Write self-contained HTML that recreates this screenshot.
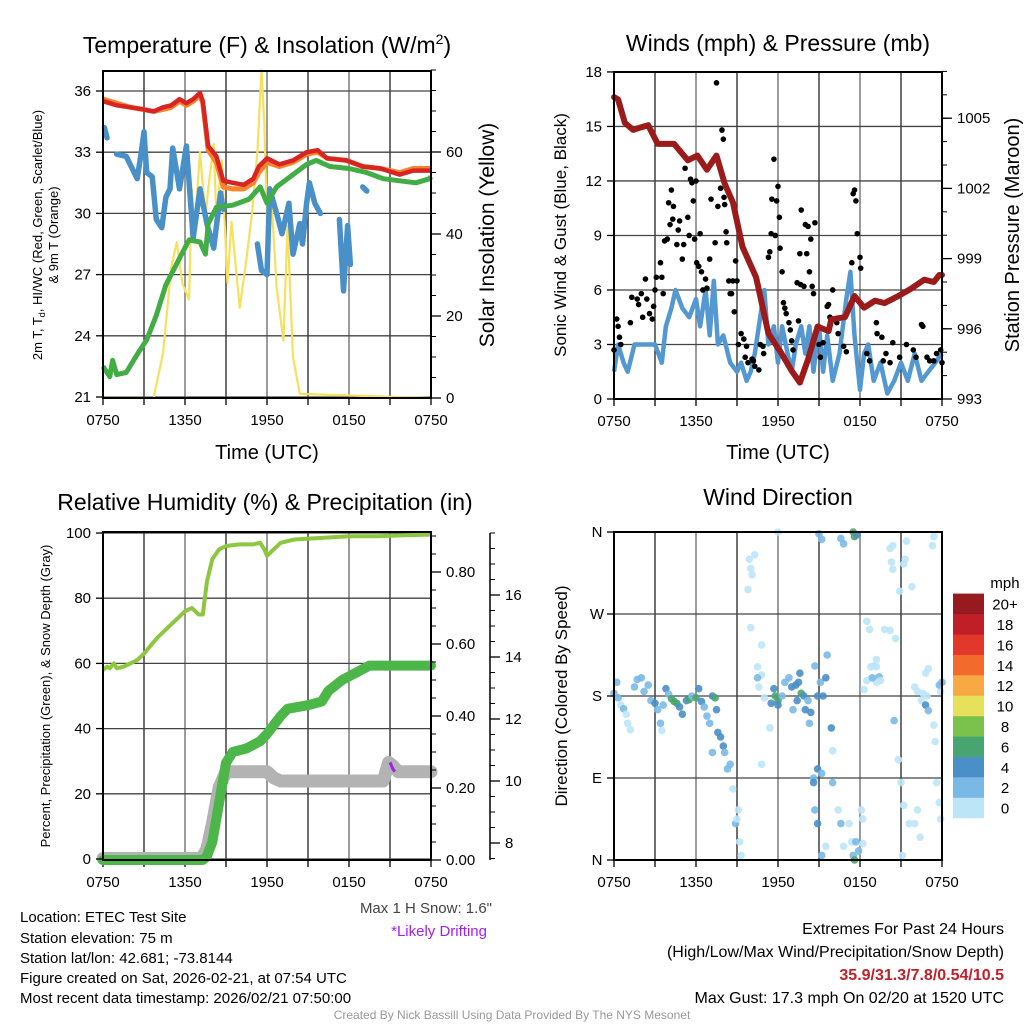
<!DOCTYPE html>
<html><head><meta charset="utf-8"><style>
html,body{margin:0;padding:0;background:#fff;}
svg{display:block;font-family:"Liberation Sans",sans-serif;}
</style></head><body>
<svg id="fig" width="1024" height="1024" viewBox="0 0 1024 1024" xmlns="http://www.w3.org/2000/svg">
<rect x="0" y="0" width="1024" height="1024" fill="#fff"/>
<text x="267" y="53" font-size="23" text-anchor="middle">Temperature (F) &amp; Insolation (W/m<tspan dy="-9" font-size="14">2</tspan><tspan dy="9">)</tspan></text>
<text x="778" y="51" font-size="23" text-anchor="middle">Winds (mph) &amp; Pressure (mb)</text>
<text x="265" y="510" font-size="23" text-anchor="middle">Relative Humidity (%) &amp; Precipitation (in)</text>
<text x="778" y="505" font-size="23" text-anchor="middle">Wind Direction</text>
<g font-size="13" text-anchor="middle">
<text transform="translate(42,235) rotate(-90)">2m T, T<tspan font-size="9" dy="3">d</tspan><tspan dy="-3">, HI/WC (Red, Green, Scarlet/Blue)</tspan></text>
<text transform="translate(58,235) rotate(-90)">&amp; 9m T (Orange)</text>
</g>
<text transform="translate(494,235) rotate(-90)" font-size="21" text-anchor="middle">Solar Insolation (Yellow)</text>
<text transform="translate(566,235) rotate(-90)" font-size="17" text-anchor="middle">Sonic Wind &amp; Gust (Blue, Black)</text>
<text transform="translate(1019,235) rotate(-90)" font-size="20" text-anchor="middle">Station Pressure (Maroon)</text>
<text transform="translate(50,696) rotate(-90)" font-size="13" text-anchor="middle">Percent, Precipitation (Green), &amp; Snow Depth (Gray)</text>
<text transform="translate(567,696) rotate(-90)" font-size="17" text-anchor="middle">Direction (Colored By Speed)</text>
<text x="267" y="459" font-size="20" text-anchor="middle">Time (UTC)</text>
<text x="778" y="459" font-size="20" text-anchor="middle">Time (UTC)</text>
<g font-size="15">
<text x="20" y="922">Location: ETEC Test Site</text>
<text x="20" y="943">Station elevation: 75 m</text>
<text x="20" y="963">Station lat/lon: 42.681; -73.8144</text>
<text x="20" y="983">Figure created on Sat, 2026-02-21, at 07:54 UTC</text>
<text x="20" y="1003">Most recent data timestamp: 2026/02/21 07:50:00</text>
</g>
<text x="492" y="913" font-size="15" fill="#444" text-anchor="end">Max 1 H Snow: 1.6"</text>
<text x="487" y="936" font-size="15" fill="#a020f0" text-anchor="end">*Likely Drifting</text>
<g font-size="16" text-anchor="end">
<text x="1004" y="934">Extremes For Past 24 Hours</text>
<text x="1004" y="957">(High/Low/Max Wind/Precipitation/Snow Depth)</text>
<text x="1004" y="980" fill="#c0202a" font-weight="bold">35.9/31.3/7.8/0.54/10.5</text>
<text x="1004" y="1003">Max Gust: 17.3 mph On 02/20 at 1520 UTC</text>
</g>
<text x="512" y="1019" font-size="12" fill="#999" text-anchor="middle">Created By Nick Bassill Using Data Provided By The NYS Mesonet</text>
</svg>
<script>
// ---------- data ----------
const timeTickLabels = ["0750","1350","1950","0150","0750"];
const tempTickLabels = [21,24,27,30,33,36];
const insolTickLabels = [0,20,40,60];
const windTickLabels = [0,3,6,9,12,15,18];
const presTickLabels = [993,996,999,1002,1005];
const rhTickLabels = [0,20,40,60,80,100];
const precipTickLabels = [0,0.2,0.4,0.6,0.8];
const snowTickLabels = [8,10,12,14,16];
const dirTickLabels = ["N","E","S","W","N"];
const speedBins = ["0","2","4","6","8","10","12","14","16","18","20+"];

const tempHours = [0,0.5,1,2,2.95,3.7,4.4,5.0,5.6,6.1,6.6,7.1,7.3,7.7,8.3,8.8,9.5,10.3,11,11.4,12,12.9,13.9,14.9,15.7,16.4,17.8,19,20.3,21.7,22.7,23.9,24];
const tempRed = [35.5,35.4,35.3,35.2,35.1,35.0,35.2,35.3,35.6,35.4,35.6,35.9,35.5,33.3,32.8,31.6,31.5,31.4,31.7,32.3,32.7,32.4,32.6,33.0,33.1,32.7,32.6,32.3,32.2,31.9,32.1,32.1,32.1];
const tempOrange = [35.6,35.5,35.4,35.2,35.1,35.0,35.1,35.2,35.5,35.3,35.5,35.8,35.4,33.1,32.5,31.3,31.2,31.2,31.5,32.0,32.5,32.3,32.5,32.9,33.0,32.7,32.6,32.3,32.2,32.0,32.2,32.2,32.2];
const greenHours = [0,0.5,0.7,1,1.7,2.7,3.2,3.9,4.6,5.6,6.3,7.1,7.5,7.7,8.3,9.5,10.7,11.5,12,12.7,13.9,14.9,15.6,16.6,18,19.3,20.5,21.7,22.9,23.9,24];
const tempGreen = [22.5,22.0,22.8,22.1,22.2,23.3,23.8,25.0,26.5,27.8,28.7,28.6,28.0,29.5,30.3,30.4,30.7,31.3,30.5,31.3,31.9,32.4,32.6,32.3,32.2,32.0,31.7,31.6,31.5,31.7,31.8];
const dewHours = [0.1,0.3,null,1.0,1.7,2.5,2.8,3.0,3.2,3.6,3.9,4.3,4.6,4.9,5.1,5.6,6.1,6.6,7.1,7.6,8.1,8.6,8.8,null,11.3,11.6,12.0,12.2,12.7,13.1,13.6,13.9,14.4,14.6,14.9,15.1,15.5,15.9,null,17.3,17.6,17.9,18.1,null,19.0,19.3];
const dewBlue = [34.2,33.7,null,32.9,32.8,31.7,33.0,34.0,32.0,31.8,29.7,29.3,30.8,31.2,33.2,31.2,33.3,28.8,31.2,29.5,28.3,31.0,30.2,null,28.5,27.2,27.0,31.2,30.0,29.0,30.5,28.0,29.5,28.5,30.5,31.5,30.5,30.0,null,29.7,26.2,29.4,27.5,null,31.3,31.1];
const insolHours = [0,3.7,4.4,5.0,5.4,5.8,6.3,6.5,6.7,7.1,7.5,7.7,8.1,8.3,8.7,9.1,9.4,10.0,10.5,10.9,11.3,11.6,11.8,12.1,12.3,12.7,13.2,13.5,13.9,14.4,24];
const insolVals = [0,0,11,32,38,28,24,51,41,60,44,51,62,44,58,28,43,22,34,45,60,80,67,31,50,27,14,42,10,1,0];

const presHours = [0,0.3,0.8,1.4,1.9,2.5,3.2,4.4,5.4,6.1,6.8,7.5,8.1,8.7,9.4,10.4,11.3,12.2,13.0,13.6,14.2,14.9,15.7,15.9,16.9,17.6,18.3,19.1,19.8,20.8,21.7,22.7,23.4,23.8,24];
const presVals = [1005.9,1005.8,1004.8,1004.5,1004.6,1004.7,1003.9,1003.9,1003.2,1003.4,1002.8,1003.4,1002.2,1001.4,999.5,998.2,995.8,995.0,994.2,993.7,994.7,996.1,995.9,996.4,996.5,997.4,996.9,997.2,997.1,997.4,997.7,998.1,998.0,998.3,998.3];
const windHours = [0,0.3,0.7,1,1.5,2,2.5,3,3.5,3.8,4.2,4.5,5,5.5,6,6.3,6.7,7,7.3,7.6,8,8.5,9,9.3,9.7,10,10.3,10.7,11,11.3,11.7,12,12.3,12.7,13,13.3,13.7,14,14.3,14.6,15,15.3,15.6,16,16.5,17,17.3,17.6,18,18.3,18.6,19,19.5,20,20.5,21,21.5,22,22.5,23,23.5,24];
const windVals = [1.5,3,2,1.5,3,3,3,3,2,4,5,6,5,4.5,5.5,4,6,3.5,6.5,3,3.5,2,1.5,2,1,1.5,2.5,4.5,6,3,4,2,4,2.5,1.5,3,4,2.5,4,1.5,4,1.5,3.5,1,2.5,5.5,7,3.5,0.5,2.5,3,1,2,0.3,1,2,1,2.5,1,1.5,2,2.5];
const gustHours = [0,0.2,0.3,0.4,0.5,1.2,1.3,1.7,1.8,2,2.1,2.3,2.4,2.6,2.8,2.9,3,3.1,3.4,3.5,3.6,3.7,3.9,4,4.1,4.2,4.3,4.35,4.6,4.7,4.8,5,5.1,5.2,5.4,5.5,5.6,5.7,5.8,5.9,6,6.05,6.2,6.3,6.4,6.5,6.7,6.8,7,7.1,7.4,7.5,7.6,7.8,7.9,8,8.05,8.1,8.2,8.25,8.4,8.5,8.6,8.7,8.8,8.9,9,9.1,9.3,9.5,9.6,9.7,9.8,10.1,10.2,10.3,10.6,10.7,10.9,10.95,11.3,11.4,11.5,11.55,11.7,11.8,11.9,12,12.1,12.15,12.3,12.4,12.5,12.6,12.8,12.9,13,13.1,13.4,13.5,13.6,13.65,13.7,13.9,14,14.1,14.2,14.3,14.4,14.5,14.6,14.7,15,15.1,15.3,15.6,15.7,15.8,16,16.3,16.4,16.8,17,17.4,17.5,17.6,17.7,17.8,18,18.05,18.5,18.7,19.2,19.25,19.6,19.7,19.9,20.2,20.4,20.9,21.4,21.9,22.1,22.5,22.6,22.9,23.1,23.4,23.6,23.9,24];
const gustVals = [2.7,4.4,4,3.4,3,4.2,5.6,5.5,5.2,5.8,4.5,6.6,5.5,4.7,4.4,5.1,6,6.7,7.5,6.7,5.8,8.7,8.8,10.8,9.6,11.5,9.9,10.6,8.5,9.3,9.8,7.7,8.5,12.7,10,9,12.1,11.9,10.9,8.8,12,7.5,7.3,9.1,7,6,6.6,6.1,7.7,11,8.6,17.4,10.6,11.6,14.8,14.3,11.1,10.7,9.2,8.6,6.5,5.8,5.8,6.5,4.8,7.6,6.5,3,3.6,3.3,2.3,2.9,2,2.2,2.1,1.8,1.6,3,2.9,2.5,7.8,8.1,9.1,11,13.2,9,10.9,11.7,10,8.3,7,5.3,5,4.7,4.2,3.8,3.2,2.7,6.4,4.3,8,6.3,10.4,6.2,9.6,8,9.5,7,8.8,6.2,5.8,9.7,3,2.3,3.1,5.1,5.2,4.5,6,4.2,3.6,2.9,2.6,7.5,11.3,11.5,10.9,9.1,7.8,7.2,2.5,2.1,4.2,3.6,3.4,2.1,2.5,2,3.1,2.3,3,2.7,2.3,4.1,4,2.3,2.1,2.1,2.5,2.7,2];

const rhHours = [0,0.3,0.5,0.8,1,1.5,2,2.5,3,3.5,4,4.5,5,5.5,6,6.5,7,7.3,7.6,8,8.5,9,10,11,11.5,11.8,12,12.5,13,14,16,18,20,22,24];
const rhVals = [58,59,58.5,60,58.5,59,60,61,63,65.5,68,70,72,74,76,77,75,75,85,92,95,96,96.5,96.5,97,95,93,95,97,98,98.5,99,99,99.3,99.5];
const precipHours = [0,7.3,7.6,8,8.5,9,9.5,10.5,11.5,12,13,13.5,15,16,16.5,17.5,18.5,19.5,24];
const precipVals = [0,0,0.01,0.05,0.16,0.27,0.30,0.31,0.33,0.35,0.40,0.42,0.43,0.44,0.47,0.50,0.52,0.54,0.54];
const snowHours = [0,7.2,7.6,8,8.5,9,10,11,12,12.5,13,15,17,19,20.5,20.9,21.2,21.6,22,24];
const snowVals = [7.5,7.5,7.8,8.6,9.8,10.3,10.3,10.3,10.3,10.1,10.0,10.0,10.0,10.0,10.0,10.6,10.5,10.3,10.3,10.3];
const driftHours = [21.0,21.1,21.2,21.35];
const driftVals = [10.6,10.5,10.4,10.3];

const dirHours = [0,0.2,0.3,0.5,0.7,0.9,1,1.2,1.5,1.7,2,2.2,2.5,2.7,3,3.2,3.4,3.5,3.6,3.8,4,4.2,4.4,4.6,4.8,5,5.3,5.5,5.7,6,6.2,6.4,6.6,6.8,7,7.2,7.4,7.5,7.6,7.8,8,8.1,8.3,7.2,8.5,8.7,8.9,9,9.1,9.2,9.3,9.8,9.9,10,10.1,10.3,10,10.5,10.8,10.6,10.8,10.5,11,10.8,11.4,12,11.5,11.7,11.8,12,12,12.3,12.5,12.8,13,13.1,13.3,13.4,13.5,13.6,13.7,13.9,14,14.2,14.4,14.3,14.7,14.9,15.1,15.3,15.5,15.6,15.9,16,15,15.2,14.9,15.2,14.6,14.6,14.7,14.9,15.2,15.5,16,16.4,16.6,16.8,17.2,17.4,17.5,17.6,17.7,17.9,18.2,18.1,18.2,17.5,17.6,17.8,16.6,16.8,18.3,18.5,18.8,19,19.2,19.4,19.2,19.5,18.9,18.5,18.7,19.8,20.2,20.6,19.2,20.3,20.4,20.2,20.4,20.9,20.5,20.8,21,21.2,21.6,21.1,22,22.2,22.4,22,22.2,22.5,22.6,22.8,22.9,22.8,23,23,23.4,23.5,23.6,23.8,23.9,23.9,24,23.8,23.4,23.3,21.2,21.4,21.3,21.8];
const dirVals = [183,195,178,170,166,160,150,143,190,198,200,185,192,175,172,165,150,142,170,188,182,177,174,172,168,160,175,176,180,178,188,174,168,158,150,180,178,165,140,135,125,118,100,118,105,78,40,45,55,20,5,297,330,320,313,335,255,212,236,190,203,200,178,105,145,360,172,188,180,175,170,180,195,200,190,165,192,175,195,205,183,180,165,175,162,150,213,180,195,180,200,225,145,120,358,352,100,95,90,85,55,40,5,15,85,55,40,15,40,20,5,0,20,10,18,55,45,360,355,357,353,347,187,197,212,213,212,201,195,197,200,262,253,253,252,243,220,327,319,342,345,295,153,110,85,60,40,5,40,55,25,190,185,175,183,170,180,205,210,164,148,130,85,63,45,185,195,192,355,345,325,350,330,300];
const dirSpeeds = [2.5,3,2,1.5,2.5,1,1,1,2.5,3,2.5,2,3,2.5,4,3.5,2.5,1.5,2,4,3,6,6.5,6,4,4.5,5,6.5,3,6,4,5,3,2.5,3,4,7.5,5,4,4.5,4,3,2.5,2.5,2.5,1,3,1.5,0.5,0.5,0.5,0.5,0.5,0.5,0.5,0.5,0.5,0.5,0.5,0.5,0.5,2,0.5,0.5,0.5,0.5,4,4.5,6,6.5,4,3,3,2.5,4,2.5,5,4,4,4.5,6,4,4.5,3,4,2,2.5,4.5,3,4,4,3,4,1,3,3,4,3,2,4,3,4,2,1,3,1,3,0.5,1,0.5,3,7,2,3,0.5,0.5,0.5,7,6,4,3,3,0.5,0.5,1.5,1,1,2,0.5,0.5,3,0.5,0.5,0.5,0.5,0.5,0.5,0.5,0.5,0.5,0.5,0.5,3,0.5,0.5,0.5,0.5,0.5,1,1,0.5,0.5,0.5,0.5,0.5,4,0.5,1,0.5,2.5,0.5,0.5,0.5,0.5,0.5,0.5,3,2,0.5,0.5,0.5,0.5,0.5,0.5];
const speedColors = ["#bde5f8","#7ab9e6","#4a8fc7","#48a570","#7bc24d","#e7e05b","#f7a944","#f26a2c","#e1382b","#c11f27","#961b1e"];

// ---------- rendering ----------
const NS = "http://www.w3.org/2000/svg";
const svg = document.getElementById("fig");
function mk(tag, name, attrs, parent) {
  const el = document.createElementNS(NS, tag);
  
  
  for (const k in attrs) el.setAttribute(k, attrs[k]);
  (parent || svg).appendChild(el);
  return el;
}
function txt(name, x, y, s, size, anchor, parent) {
  const t = mk("text", name, {x: x, y: y, "font-size": size || 15, "text-anchor": anchor || "middle"}, parent);
  t.textContent = s;
  return t;
}
function pathFrom(xs, ys, sx, sy) {
  let d = "", pen = false;
  for (let i = 0; i < xs.length; i++) {
    if (xs[i] === null || ys[i] === null) { pen = false; continue; }
    d += (pen ? "L" : "M") + sx(xs[i]).toFixed(1) + "," + sy(ys[i]).toFixed(1);
    pen = true;
  }
  return d;
}
function panel(id, x0, x1, y0, y1) {
  const g = mk("g", id + "-panel", {});
  return {g, x0, x1, y0, y1, sx: h => x0 + (x1 - x0) * h / 24};
}
function frame(P, hLines, id) {
  const gg = mk("g", id + "-gridlines", {}, P.g);
  for (let i = 0; i <= 8; i++) {
    const x = P.sx(i * 3);
    mk("line", "vertical-gridline", {x1: x, x2: x, y1: P.y0, y2: P.y1, stroke: i % 2 ? "#222" : "#666", "stroke-width": 1.3}, gg);
    mk("line", "x-tick", {x1: x, x2: x, y1: P.y1, y2: P.y1 + 7, stroke: "#000", "stroke-width": 1.3}, gg);
  }
  hLines.forEach(y => mk("line", "horizontal-gridline", {x1: P.x0, x2: P.x1, y1: y, y2: y, stroke: "#444", "stroke-width": 1.3}, gg));
  timeTickLabels.forEach((l, i) => txt("x-tick-label", P.sx(i * 6), P.y1 + 27, l, 15, "middle", gg));
}
function border(P) {
  mk("rect", "plot-border", {x: P.x0, y: P.y0, width: P.x1 - P.x0, height: P.y1 - P.y0, fill: "none", stroke: "#000", "stroke-width": 2}, P.g);
}
function leftTicks(P, vals, sy, labels, name) {
  vals.forEach((v, i) => {
    const y = sy(v);
    mk("line", name + "-tick", {x1: P.x0 - 7, x2: P.x0, y1: y, y2: y, stroke: "#000", "stroke-width": 1.3}, P.g);
    txt(name + "-tick-label", P.x0 - 12, y + 5, labels[i], 15, "end", P.g);
  });
}
function rightTicks(P, ax, vals, sy, labels, name, minorStep, lo, hi) {
  for (let v = lo; v <= hi + 1e-9; v += minorStep) {
    const y = sy(v);
    if (y < P.y0 - 1 || y > P.y1 + 1) continue;
    mk("line", name + "-minor-tick", {x1: ax, x2: ax + 5, y1: y, y2: y, stroke: "#000", "stroke-width": 1}, P.g);
  }
  vals.forEach((v, i) => {
    const y = sy(v);
    mk("line", name + "-tick", {x1: ax, x2: ax + 10, y1: y, y2: y, stroke: "#000", "stroke-width": 1.3}, P.g);
    txt(name + "-tick-label", ax + 15, y + 5, labels[i], 15, "start", P.g);
  });
}

// Panel 1: temperature & insolation
const P1 = panel("temperature", 103, 431, 71, 398);
const tY = t => 397 - (t - 21) * 20.4;
const iY = v => 398 - v * 4.1;
frame(P1, tempTickLabels.map(tY), "temperature");
mk("path", "insolation-line", {d: pathFrom(insolHours, insolVals, P1.sx, iY), fill: "none", stroke: "#f6e05e", "stroke-width": 2.2, "stroke-linejoin": "round"}, P1.g);
mk("path", "dewpoint-line", {d: pathFrom(dewHours, dewBlue, P1.sx, tY), fill: "none", stroke: "#4a90c8", "stroke-width": 5.5, "stroke-linejoin": "round", "stroke-linecap": "round"}, P1.g);
mk("path", "green-temp-line", {d: pathFrom(greenHours, tempGreen, P1.sx, tY), fill: "none", stroke: "#43ad45", "stroke-width": 5, "stroke-linejoin": "round"}, P1.g);
mk("path", "9m-temp-line", {d: pathFrom(tempHours, tempOrange, P1.sx, tY), fill: "none", stroke: "#f7842a", "stroke-width": 5, "stroke-linejoin": "round"}, P1.g);
mk("path", "2m-temp-line", {d: pathFrom(tempHours, tempRed, P1.sx, tY), fill: "none", stroke: "#d92424", "stroke-width": 4.5, "stroke-linejoin": "round"}, P1.g);
leftTicks(P1, tempTickLabels, tY, tempTickLabels, "temp-y");
rightTicks(P1, P1.x1, insolTickLabels, iY, insolTickLabels, "insolation-y", 5, 0, 80);
border(P1);

// Panel 2: winds & pressure
const P2 = panel("wind", 614, 942, 72, 399);
const wY = m => 399 - m * 18.17;
const pY = p => 399 - (p - 993) * 23.4;
frame(P2, windTickLabels.map(wY), "wind");
mk("path", "sustained-wind-line", {d: pathFrom(windHours, windVals, P2.sx, wY), fill: "none", stroke: "#5498d2", "stroke-width": 4.5, "stroke-linejoin": "round"}, P2.g);
const gg2 = mk("g", "gust-points", {}, P2.g);
gustHours.forEach((h, i) => {
  const c = document.createElementNS(NS, "circle");
  
  
  c.setAttribute("cx", P2.sx(h)); c.setAttribute("cy", wY(gustVals[i])); c.setAttribute("r", 2.8); c.setAttribute("fill", "#000");
  gg2.appendChild(c);
});
mk("path", "pressure-line", {d: pathFrom(presHours, presVals, P2.sx, pY), fill: "none", stroke: "#9b1b1b", "stroke-width": 6, "stroke-linejoin": "round", "stroke-linecap": "round"}, P2.g);
leftTicks(P2, windTickLabels, wY, windTickLabels, "wind-y");
rightTicks(P2, P2.x1, presTickLabels, pY, presTickLabels, "pressure-y", 1, 993, 1007);
border(P2);

// Panel 3: RH & precip
const P3 = panel("humidity", 103, 431, 532, 860);
const rY = r => 859 - r * 3.26;
const prY = v => 860 - v * 360;
const sY = s => 843 - (s - 8) * 31;
frame(P3, rhTickLabels.map(rY), "humidity");
mk("path", "snow-depth-line", {d: pathFrom(snowHours, snowVals, P3.sx, sY), fill: "none", stroke: "#b3b3b3", "stroke-width": 13, "stroke-linejoin": "round", "stroke-linecap": "round"}, P3.g);
mk("path", "drifting-segment", {d: pathFrom(driftHours, driftVals, P3.sx, sY), fill: "none", stroke: "#a020f0", "stroke-width": 3}, P3.g);
mk("path", "precip-line", {d: pathFrom(precipHours, precipVals, P3.sx, prY), fill: "none", stroke: "#4cb648", "stroke-width": 10, "stroke-linejoin": "round", "stroke-linecap": "round"}, P3.g);
mk("path", "rh-line", {d: pathFrom(rhHours, rhVals, P3.sx, rY), fill: "none", stroke: "#8dc63f", "stroke-width": 4, "stroke-linejoin": "round"}, P3.g);
leftTicks(P3, rhTickLabels, rY, rhTickLabels, "rh-y");
rightTicks(P3, P3.x1, precipTickLabels, prY, precipTickLabels.map(v => v.toFixed(2)), "precip-y", 0.05, 0, 0.9);
mk("line", "snow-axis-line", {x1: 490, x2: 490, y1: 533, y2: 860, stroke: "#000", "stroke-width": 1.5}, P3.g);
const P3s = {g: P3.g, x0: P3.x0, x1: P3.x1, y0: 533, y1: 860};
rightTicks(P3s, 490, snowTickLabels, sY, snowTickLabels, "snow-y", 0.5, 7.5, 18);
border(P3);

// Panel 4: wind direction
const P4 = panel("direction", 614, 942, 532, 860);
const dY = d => 860 - d / 360 * 328;
frame(P4, [0, 90, 180, 270, 360].map(dY), "direction");
const gg4 = mk("g", "direction-points", {}, P4.g);
dirHours.forEach((h, i) => {
  const bin = Math.min(10, Math.floor(dirSpeeds[i] / 2));
  const c = document.createElementNS(NS, "circle");
  
  
  c.setAttribute("cx", P4.sx(h)); c.setAttribute("cy", dY(dirVals[i])); c.setAttribute("r", 3.8);
  c.setAttribute("fill", speedColors[bin]); c.setAttribute("fill-opacity", 0.9);
  gg4.appendChild(c);
});
[0, 90, 180, 270, 360].forEach((d, i) => {
  mk("line", "direction-tick", {x1: P4.x0 - 7, x2: P4.x0, y1: dY(d), y2: dY(d), stroke: "#000", "stroke-width": 1.3}, P4.g);
  txt("direction-tick-label", P4.x0 - 17, dY(d) + 5, dirTickLabels[i], 15, "middle", P4.g);
});
border(P4);

// colorbar
const cb = mk("g", "speed-colorbar", {});
txt("colorbar-title", 1005, 588, "mph", 15, "middle", cb);
speedBins.forEach((lab, i) => {
  const y = 818 - (i + 1) * 20.4;
  mk("rect", "colorbar-swatch", {x: 953, y: y, width: 31, height: 20.6, fill: speedColors[i]}, cb);
  txt("colorbar-label", 1005, y + 16, lab, 15, "middle", cb);
});
</script>
</body></html>
